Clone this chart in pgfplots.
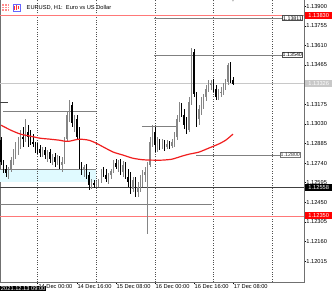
\documentclass[border=0pt]{standalone}
\usepackage{pgfplots}
\pgfplotsset{compat=1.18}
\usepackage{pgfplotstable}
\usepackage{fontspec}
\setmainfont{Liberation Sans}
\definecolor{bullc}{HTML}{858585}
\definecolor{linec}{HTML}{808080}
\definecolor{redl}{HTML}{FF7878}
\definecolor{mared}{HTML}{F01E1E}
\definecolor{cyanz}{HTML}{E0FAFF}
\definecolor{framec}{HTML}{707070}
\definecolor{sepc}{HTML}{505050}
\definecolor{curc}{HTML}{C8C8C8}
\newcommand{\pf}{\fontsize{5.7}{6}\selectfont}
\newcommand{\bxf}{\fontsize{5.3}{6}\selectfont}

\pgfplotstableread{
t o h l c
12 1.12666 1.12710 1.12621 1.12695
13 1.12695 1.12784 1.12673 1.12762
14 1.12762 1.12843 1.12725 1.12813
15 1.12813 1.12895 1.12769 1.12858
16 1.12858 1.12932 1.12799 1.12895
17 1.12895 1.12983 1.12843 1.12932
19 1.12917 1.13065 1.12895 1.12969
26 1.12813 1.12858 1.12784 1.12836
28 1.12799 1.12836 1.12747 1.12821
30 1.12769 1.12806 1.12725 1.12784
32 1.12747 1.12799 1.12725 1.12776
34 1.12725 1.12784 1.12673 1.12747
35 1.12747 1.12932 1.12732 1.12917
36 1.12917 1.13116 1.12895 1.13094
37 1.13094 1.13205 1.13043 1.13168
39 1.13035 1.13094 1.12969 1.13065
43 1.12695 1.12725 1.12636 1.12710
46 1.12577 1.12621 1.12547 1.12592
48 1.12577 1.12606 1.12562 1.12592
49 1.12592 1.12621 1.12562 1.12606
50 1.12606 1.12695 1.12592 1.12673
53 1.12621 1.12666 1.12584 1.12651
54 1.12651 1.12695 1.12621 1.12680
55 1.12680 1.12762 1.12666 1.12739
57 1.12710 1.12762 1.12673 1.12747
59 1.12673 1.12754 1.12636 1.12725
63 1.12547 1.12636 1.12525 1.12614
65 1.12525 1.12599 1.12488 1.12562
66 1.12562 1.12651 1.12525 1.12621
67 1.12621 1.12688 1.12562 1.12651
68 1.12651 1.12710 1.12599 1.12673
69 1.12673 1.12747 1.12215 1.12725
70 1.12725 1.12932 1.12710 1.12895
71 1.12895 1.13020 1.12858 1.12969
73 1.12873 1.12932 1.12821 1.12895
75 1.12858 1.12917 1.12843 1.12887
77 1.12858 1.12909 1.12843 1.12880
79 1.12865 1.12917 1.12850 1.12895
80 1.12895 1.12969 1.12858 1.12932
81 1.12932 1.13094 1.12909 1.13065
82 1.13065 1.13190 1.13043 1.13153
86 1.12983 1.13227 1.12969 1.13190
87 1.13190 1.13590 1.13168 1.13560
90 1.13065 1.13168 1.13020 1.13139
91 1.13139 1.13227 1.13094 1.13190
92 1.13190 1.13250 1.13139 1.13227
93 1.13227 1.13316 1.13198 1.13286
94 1.13286 1.13353 1.13264 1.13316
95 1.13316 1.13353 1.13279 1.13331
98 1.13227 1.13286 1.13205 1.13257
99 1.13257 1.13301 1.13227 1.13264
100 1.13264 1.13331 1.13242 1.13301
101 1.13301 1.13360 1.13279 1.13338
102 1.13338 1.13479 1.13316 1.13464
}\bull

\pgfplotstableread{
t o h l c
9 1.12909 1.12932 1.12725 1.12747
10 1.12747 1.12762 1.12666 1.12695
11 1.12695 1.12725 1.12636 1.12666
18 1.12932 1.13006 1.12858 1.12917
20 1.12969 1.13020 1.12858 1.12932
21 1.12932 1.12983 1.12873 1.12895
22 1.12895 1.12954 1.12858 1.12880
23 1.12880 1.12895 1.12813 1.12858
24 1.12858 1.12887 1.12806 1.12843
25 1.12843 1.12873 1.12784 1.12813
27 1.12836 1.12858 1.12769 1.12799
29 1.12821 1.12843 1.12739 1.12769
31 1.12784 1.12813 1.12710 1.12747
33 1.12776 1.12791 1.12695 1.12725
38 1.13168 1.13190 1.13006 1.13035
40 1.13065 1.13094 1.12917 1.12932
41 1.12932 1.13006 1.12695 1.12725
42 1.12725 1.12747 1.12651 1.12695
44 1.12710 1.12732 1.12621 1.12651
45 1.12651 1.12673 1.12540 1.12577
47 1.12592 1.12614 1.12555 1.12577
51 1.12673 1.12710 1.12636 1.12651
52 1.12651 1.12695 1.12599 1.12621
56 1.12739 1.12769 1.12695 1.12710
58 1.12747 1.12769 1.12651 1.12673
60 1.12725 1.12747 1.12621 1.12636
61 1.12636 1.12695 1.12562 1.12599
62 1.12599 1.12673 1.12510 1.12547
64 1.12614 1.12636 1.12488 1.12525
72 1.12969 1.13006 1.12821 1.12873
74 1.12895 1.12917 1.12836 1.12858
76 1.12887 1.12909 1.12828 1.12858
78 1.12880 1.12902 1.12843 1.12865
83 1.13153 1.13183 1.13080 1.13094
84 1.13094 1.13139 1.12991 1.13020
85 1.13020 1.13080 1.12954 1.12983
88 1.13560 1.13582 1.13227 1.13250
89 1.13250 1.13264 1.13006 1.13065
96 1.13331 1.13360 1.13264 1.13286
97 1.13286 1.13316 1.13205 1.13227
103 1.13464 1.13486 1.13331 1.13353
104 1.13353 1.13375 1.13316 1.13323
}\bear

\begin{document}
\begin{tikzpicture}[x=1pt,y=1pt]
\useasboundingbox (0,0) rectangle (332,293);
\begin{axis}[
  at={(0,8)}, anchor=south west,
  width=304pt, height=285pt, scale only axis,
  xmin=8.55, xmax=133.11, ymin=1.118598, ymax=1.139665,
  axis line style={draw=framec, line width=0.8pt},
  tick align=outside, major tick length=2.2pt,
  tick style={draw=black, line width=0.5pt},
  xtick pos=left, ytick pos=right, yticklabel pos=right,
  xtick={24,40,56,72,88,104},
  xticklabels={14 Dec 00:00,14 Dec 16:00,15 Dec 08:00,16 Dec 00:00,16 Dec 16:00,17 Dec 08:00},
  xticklabel style={anchor=north west, inner sep=0pt, xshift=0.6pt, font=\pf},
  ytick={1.12015,1.1216,1.12305,1.1245,1.12595,1.1274,1.12885,1.1303,1.13175,1.1332,1.13465,1.1361,1.13755,1.139},
  yticklabels={1.12015,1.12160,1.12305,1.12450,1.12595,1.12740,1.12885,1.13030,1.13175,{},1.13465,1.13610,1.13755,1.13900},
  yticklabel style={anchor=west, inner sep=0pt, font=\pf},
  /pgf/number format/assume math mode=true,
  candle/.style={draw=none, mark=none, forget plot},
]
% cyan zone
\addplot[fill=cyanz, draw=none] coordinates {(8.55,1.12695) (48,1.12695) (48,1.12599) (8.55,1.12599)} -- cycle;
% day separators
\addplot[sepc, line width=0.6pt, dash pattern=on 1pt off 1.4pt] coordinates {(24,1.118598) (24,1.139665)};
\addplot[sepc, line width=0.6pt, dash pattern=on 1pt off 1.4pt] coordinates {(48,1.118598) (48,1.139665)};
\addplot[sepc, line width=0.6pt, dash pattern=on 1pt off 1.4pt] coordinates {(72,1.118598) (72,1.139665)};
\addplot[sepc, line width=0.6pt, dash pattern=on 1pt off 1.4pt] coordinates {(96,1.118598) (96,1.139665)};
\addplot[sepc, line width=0.6pt, dash pattern=on 1pt off 1.4pt] coordinates {(120,1.118598) (120,1.139665)};
% horizontal lines
\addplot[redl, line width=0.7pt] coordinates {(8.55,1.13830) (133.11,1.13830)};
\addplot[redl, line width=0.7pt] coordinates {(8.55,1.12350) (133.11,1.12350)};
\addplot[linec, line width=0.7pt] coordinates {(71.7,1.13811) (124.5,1.13811)};
\addplot[linec, line width=0.7pt] coordinates {(71.7,1.13540) (124.5,1.13540)};
\addplot[linec, line width=0.7pt] coordinates {(89,1.12800) (124.5,1.12800)};
\addplot[curc, line width=0.7pt] coordinates {(8.55,1.13326) (133.11,1.13326)};
\addplot[black!75, line width=0.8pt] coordinates {(8.55,1.12558) (133.11,1.12558)};
\addplot[black!75, line width=0.7pt] coordinates {(8.55,1.13190) (11.8,1.13190)};
\addplot[linec, line width=0.7pt] coordinates {(9.8,1.13124) (48,1.13124)};
\addplot[linec, line width=0.7pt] coordinates {(66.7,1.13009) (81.1,1.13009)};
\addplot[linec, line width=0.7pt] coordinates {(8.55,1.12695) (48,1.12695)};
\addplot[linec, line width=0.7pt] coordinates {(8.55,1.12436) (95.6,1.12436)};
% candles: wicks
\addplot[candle, error bars/.cd, y dir=minus, y explicit, error mark=none,
  error bar style={draw=bullc, line width=0.5pt}]
  table[x=t, y=h, y error minus expr=\thisrow{h}-\thisrow{l}] {\bull};
\addplot[candle, error bars/.cd, y dir=minus, y explicit, error mark=none,
  error bar style={draw=black, line width=0.5pt}]
  table[x=t, y=h, y error minus expr=\thisrow{h}-\thisrow{l}] {\bear};
% candles: bodies
\addplot[candle, error bars/.cd, y dir=minus, y explicit, error mark=none,
  error bar style={draw=bullc, line width=1.3pt}]
  table[x=t, y=c, y error minus expr=\thisrow{c}-\thisrow{o}] {\bull};
\addplot[candle, error bars/.cd, y dir=minus, y explicit, error mark=none,
  error bar style={draw=black, line width=1.3pt}]
  table[x=t, y=o, y error minus expr=\thisrow{o}-\thisrow{c}] {\bear};
% moving average
\addplot[mared, line width=1.2pt, smooth, tension=0.4] coordinates {
(9,1.13020) (13,1.12983) (17,1.12954) (21,1.12939) (25,1.12924) (29,1.12917)
(33,1.12909) (35,1.12902) (37,1.12902) (41,1.12917) (45,1.12909) (48,1.12887)
(51,1.12858) (55,1.12821) (59,1.12799) (63,1.12776) (67,1.12765) (71,1.12762)
(75,1.12762) (79,1.12769) (83,1.12791) (86,1.12806) (90,1.12821) (94,1.12850)
(98,1.12880) (101,1.12909) (104,1.12954)};
% current bar marker
\addplot[only marks, mark=triangle*, mark size=1.6pt, mark options={rotate=180, fill=gray!55, draw=gray!55}] coordinates {(104,1.13948)};
\coordinate (r1) at (axis cs:133.11,1.13830);
\coordinate (r2) at (axis cs:133.11,1.13326);
\coordinate (r3) at (axis cs:133.11,1.12558);
\coordinate (r4) at (axis cs:133.11,1.12350);
\coordinate (b1) at (axis cs:133.11,1.13811);
\coordinate (b2) at (axis cs:133.11,1.13540);
\coordinate (b3) at (axis cs:133.11,1.12800);
\end{axis}
% price boxes on the scale
\node[fill=red, text=white, anchor=west, inner sep=0pt, minimum width=27.5pt, minimum height=6.8pt, font=\pf] at ([xshift=0.8pt]r1) {1.13830};
\node[fill=curc, text=white, anchor=west, inner sep=0pt, minimum width=27.5pt, minimum height=6.8pt, font=\pf] at ([xshift=0.8pt]r2) {1.13326};
\node[fill=black, text=white, anchor=west, inner sep=0pt, minimum width=27.5pt, minimum height=6.8pt, font=\pf] at ([xshift=0.8pt]r3) {1.12558};
\node[fill=red, text=white, anchor=west, inner sep=0pt, minimum width=27.5pt, minimum height=6.8pt, font=\pf] at ([xshift=0.8pt]r4) {1.12350};
% labels inside chart
\node[fill=white, draw=black!70, line width=0.6pt, anchor=east, inner xsep=0.8pt, inner ysep=0.6pt, font=\bxf] at ([xshift=-1pt]b1) {1.13811};
\node[fill=white, draw=black!70, line width=0.6pt, anchor=east, inner xsep=0.8pt, inner ysep=0.6pt, font=\bxf] at ([xshift=-1pt]b2) {1.13540};
\node[fill=white, draw=black!55, line width=0.6pt, anchor=east, inner xsep=0.8pt, inner ysep=0.6pt, font=\bxf, text=black!80] at ([xshift=-3pt]b3) {1.12800};
% date box
\node[fill=black, text=white, anchor=north west, inner xsep=0.8pt, inner ysep=0.5pt, font=\pf] at (0,7.6) {2021.12.13 09:00};
% title and icons
\fill[red!45] (2,282) rectangle (9,289);
\draw[white, line width=0.4pt] (2,284.5) -- (9,284.5) (2,286.8) -- (9,286.8) (4.5,282) -- (4.5,289) (6.8,282) -- (6.8,289);
\draw[blue!60, line width=0.5pt] (13.5,282.2) rectangle (20.5,288.8);
\draw[red!80, line width=0.6pt] (14.5,283) -- (14.5,287) (16.5,283.5) -- (16.5,288) (18.5,284) -- (18.5,287.5);
\node[anchor=west, inner sep=0pt, font=\pf] at (26.5,285.3) {EURUSD, H1:\ \ Euro vs US Dollar};
\end{tikzpicture}
\end{document}
